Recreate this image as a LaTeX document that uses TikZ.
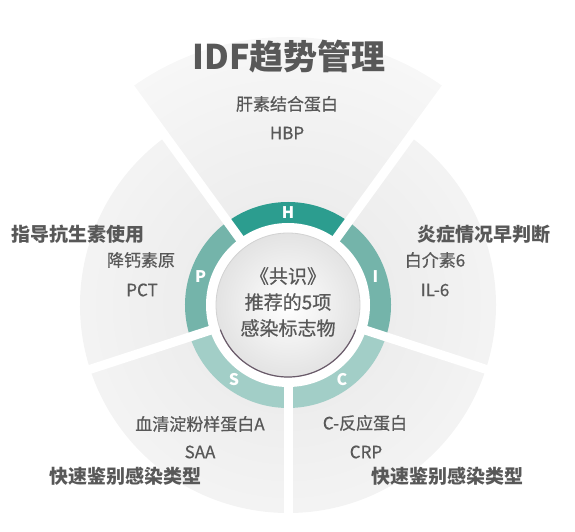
\documentclass[tikz,border=0pt]{standalone}
\usepackage{fontspec}
\setmainfont{Noto Sans CJK SC}
\newfontfamily\medfont{Noto Sans CJK SC}[FakeBold=0.6]
\definecolor{txtgray}{RGB}{88,88,88}
\definecolor{tealH}{RGB}{44,157,143}
\definecolor{tealM}{RGB}{116,180,170}
\definecolor{tealL}{RGB}{162,206,199}
\definecolor{secin}{RGB}{231,231,231}
\definecolor{secout}{RGB}{247,247,247}
\definecolor{rimdark}{RGB}{105,90,105}
\begin{document}
\begin{tikzpicture}[x=1pt,y=1pt,
    sub/.style={text=txtgray,font=\medfont\fontsize{17}{17}\selectfont,inner sep=0pt},
    headline/.style={text=txtgray,font=\bfseries\fontsize{19}{19}\selectfont,inner sep=0pt},
    ringletter/.style={text=white,font=\bfseries\fontsize{16}{16}\selectfont,inner sep=0pt}]
\useasboundingbox (0,0) rectangle (575,532);
\coordinate (c) at (288,227);

\begin{scope}
\clip (c) -- ++(54:268) arc (54:126:268) -- cycle
      (c) -- ++(126:208) arc (126:414:208) -- cycle;
\shade[inner color=secin,outer color=secout] (c) circle (268);
\end{scope}

\foreach \a/\col [evaluate=\a as \b using \a+72] in {54/tealH,126/tealM,198/tealL,270/tealL,342/tealM}
  \fill[\col,shift={(c)}] (\a:81) -- (\a:103) arc (\a:\b:103) -- (\b:81) arc (\b:\a:81) -- cycle;
\foreach \a in {54,126,198,270,342}
  \draw[white,line width=9pt] (c) -- ++(\a:275);

\fill[white] (c) circle (82);
\shade[inner color=white,outer color=gray!22] (c) circle (72);
\draw[gray!35,line width=0.8pt] (c) circle (72);
\draw[rimdark,line width=1.2pt] (c) ++(200:72) arc (200:340:72);

\node[ringletter] (h) at ([shift={(90:92)}]c) {H};
\node[ringletter] (i) at ([shift={(18:92)}]c) {I};
\node[ringletter] (cl) at ([shift={(306:92)}]c) {C};
\node[ringletter] (s) at ([shift={(234:92)}]c) {S};
\node[ringletter] (p) at ([shift={(162:92)}]c) {P};

\node[text=txtgray,align=center,font=\medfont\fontsize{19}{26}\selectfont] (core) at ([yshift=3pt]c) {《共识》\\推荐的5项\\感染标志物};

\node[text=txtgray,font=\bfseries\fontsize{34}{34}\selectfont,inner sep=0pt] (title) at (289,475) {IDF趋势管理};
\node[sub] (hbpname) at (287,428) {肝素结合蛋白};
\node[sub] (hbp) at (287,399) {HBP};
\node[headline] (phead) at (78,298) {指导抗生素使用};
\node[sub] (pctname) at (141,272) {降钙素原};
\node[sub] (pct) at (142,242) {PCT};
\node[headline] (ihead) at (484,298) {炎症情况早判断};
\node[sub] (ilname) at (435,272) {白介素6};
\node[sub] (il) at (435,242) {IL-6};
\node[sub] (saaname) at (200,108) {血清淀粉样蛋白A};
\node[sub] (saa) at (200,80) {SAA};
\node[headline] (shead) at (125,56) {快速鉴别感染类型};
\node[sub] (crpname) at (365,109) {C-反应蛋白};
\node[sub] (crp) at (366,80) {CRP};
\node[headline] (chead) at (447,56) {快速鉴别感染类型};
\end{tikzpicture}
\end{document}
